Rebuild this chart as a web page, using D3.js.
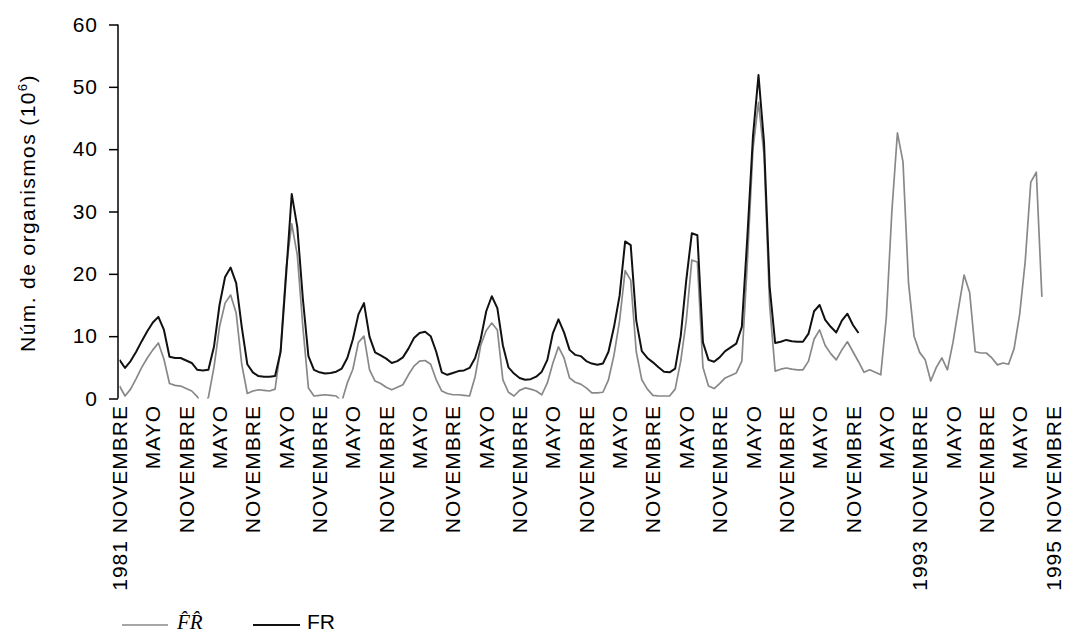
<!DOCTYPE html>
<html>
<head>
<meta charset="utf-8">
<script src="https://cdn.jsdelivr.net/npm/d3@7"></script>
<style>
  body { margin: 0; background: #fff; }
  text { font-family: "Liberation Sans", Arial, sans-serif; fill: #000; }
  .tick-label { font-size: 21px; letter-spacing: 1px; }
  .axis-title { font-size: 21px; letter-spacing: 1.4px; }
  .legend { font-size: 21px; }
</style>
</head>
<body>
<div id="my_dataviz"></div>
<script>
// Monthly values starting November 1981 (index 0)
// Estimated series (F^R), values below 0 are clipped by the plot area
const frHat = [
  2.0, 0.4, 1.5, 3.2, 5.0, 6.5, 7.8, 8.9, 6.3, 2.4, 2.1, 2.0,
  1.6, 1.2, 0.3, -1.5, 0.2, 5.0, 11.5, 15.3, 16.6, 13.7, 5.5, 0.8,
  1.2, 1.4, 1.3, 1.2, 1.5, 8.0, 21.0, 28.0, 23.0, 11.5, 1.7, 0.4,
  0.5, 0.6, 0.5, 0.4, -0.5, 2.5, 4.7, 9.0, 10.0, 4.6, 2.8, 2.4,
  1.8, 1.4, 1.8, 2.2, 3.8, 5.2, 6.0, 6.1, 5.5, 3.0, 1.2, 0.8,
  0.6, 0.6, 0.5, 0.4, 3.5, 8.5, 10.9, 12.1, 11.0, 3.0, 1.0, 0.4,
  1.3, 1.7, 1.5, 1.2, 0.6, 2.5, 5.7, 8.3, 6.5, 3.3, 2.6, 2.3,
  1.7, 0.9, 0.9, 1.0, 3.0, 7.0, 12.5, 20.5, 19.0, 7.5, 3.0, 1.5,
  0.5, 0.4, 0.4, 0.4, 1.5, 6.0, 12.5, 22.2, 21.9, 5.0, 2.0, 1.6,
  2.4, 3.3, 3.7, 4.1, 6.0, 22.0, 40.0, 47.5, 39.0, 15.0, 4.4, 4.7,
  4.9, 4.7, 4.6, 4.6, 6.0, 9.5, 11.0, 8.5, 7.2, 6.2, 7.8, 9.1,
  7.5, 5.9, 4.2, 4.6, 4.2, 3.8, 13.0, 30.0, 42.6, 38.0, 18.5, 10.0,
  7.4, 6.2, 2.8, 5.0, 6.5, 4.6, 9.0, 14.5, 19.8, 17.0, 7.5, 7.3,
  7.3, 6.5, 5.4, 5.7, 5.5, 8.0, 13.5, 22.0, 34.7, 36.3, 16.3
];

// Observed series (FR)
const fr = [
  6.2, 4.9, 6.0, 7.5, 9.2, 10.8, 12.2, 13.1, 11.0, 6.7, 6.5, 6.5,
  6.1, 5.7, 4.6, 4.5, 4.6, 8.3, 15.0, 19.5, 21.0, 18.5, 11.5, 5.5,
  4.2, 3.6, 3.5, 3.5, 3.6, 7.5, 20.0, 32.8, 27.5, 16.0, 6.8, 4.6,
  4.2, 4.0, 4.1, 4.3, 4.8, 6.5, 9.5, 13.5, 15.3, 9.9, 7.4, 6.9,
  6.4, 5.7, 6.0, 6.6, 8.0, 9.7, 10.5, 10.7, 10.0, 7.5, 4.2, 3.8,
  4.1, 4.4, 4.5, 4.9, 6.5, 9.5, 14.0, 16.4, 14.5, 8.5, 5.0, 4.0,
  3.3, 3.0, 3.1, 3.5, 4.3, 6.2, 10.5, 12.7, 10.6, 7.8, 7.0, 6.8,
  6.0, 5.6, 5.4, 5.6, 7.5, 11.5, 16.5, 25.2, 24.6, 12.5, 7.6, 6.5,
  5.8, 5.0, 4.3, 4.2, 4.8, 10.0, 19.0, 26.5, 26.2, 9.0, 6.2, 5.9,
  6.6, 7.6, 8.2, 8.8, 11.5, 26.0, 42.0, 51.9, 41.0, 18.0, 8.9, 9.1,
  9.4, 9.2, 9.1, 9.1, 10.4, 14.0, 15.0, 12.6, 11.5, 10.6, 12.5, 13.6,
  11.8, 10.5
];

// Category labels every 6 months
const xLabels = [
  "1981 NOVEMBRE", "MAYO", "NOVEMBRE", "MAYO", "NOVEMBRE", "MAYO", "NOVEMBRE", "MAYO",
  "NOVEMBRE", "MAYO", "NOVEMBRE", "MAYO", "NOVEMBRE", "MAYO", "NOVEMBRE", "MAYO",
  "NOVEMBRE", "MAYO", "NOVEMBRE", "MAYO", "NOVEMBRE", "MAYO", "NOVEMBRE", "MAYO",
  "1993 NOVEMBRE", "MAYO", "NOVEMBRE", "MAYO", "1995 NOVEMBRE"
];
const labelStep = 6;
const yTicks = [0, 10, 20, 30, 40, 50, 60];

const width = 1067;
const height = 635;

const svg = d3.select("#my_dataviz")
  .append("svg")
  .attr("width", width)
  .attr("height", height);

// Scales
const xScale = d3.scaleLinear()
  .domain([0, (xLabels.length - 1) * labelStep])
  .range([119.5, 1053]);

const yScale = d3.scaleLinear()
  .domain([0, 60])
  .range([398.5, 24.5]);

// Clip the lines to the plot area (negative values disappear)
svg.append("clipPath")
  .attr("id", "plotClip")
  .append("rect")
  .attr("x", xScale(0))
  .attr("y", yScale(60))
  .attr("width", xScale.range()[1] - xScale(0) + 5)
  .attr("height", yScale(0) - yScale(60));

const line = d3.line()
  .x((d, i) => xScale(i))
  .y(d => yScale(d));

// Estimated series first, observed series on top
svg.append("path")
  .datum(frHat)
  .attr("clip-path", "url(#plotClip)")
  .attr("fill", "none")
  .attr("stroke", "#888")
  .attr("stroke-width", 1.7)
  .attr("stroke-linejoin", "round")
  .attr("d", line);

svg.append("path")
  .datum(fr)
  .attr("clip-path", "url(#plotClip)")
  .attr("fill", "none")
  .attr("stroke", "#111")
  .attr("stroke-width", 2)
  .attr("stroke-linejoin", "round")
  .attr("d", line);

// Y axis
const yAxis = svg.append("g")
  .attr("transform", "translate(118,0)")
  .call(d3.axisLeft(yScale).tickValues(yTicks).tickSize(9).tickPadding(11));

yAxis.select(".domain")
  .attr("stroke", "#000")
  .attr("stroke-width", 1.5)
  .attr("d", `M0,${yScale(60)}V${yScale(0)}`);

yAxis.selectAll(".tick line")
  .attr("stroke", "#000")
  .attr("stroke-width", 1.5);

yAxis.selectAll(".tick text")
  .attr("class", "tick-label")
  .attr("font-family", null)
  .attr("font-size", null);

// Y axis title
const yTitle = svg.append("text")
  .attr("class", "axis-title")
  .attr("text-anchor", "middle")
  .attr("transform", "translate(35,213) rotate(-90)");
yTitle.append("tspan").text("Núm. de organismos (10");
yTitle.append("tspan").attr("font-size", "13px").attr("dy", -8).text("6");
yTitle.append("tspan").attr("dy", 8).text(")");

// X labels (rotated, no axis line)
svg.append("g")
  .selectAll("text")
  .data(xLabels)
  .enter()
  .append("text")
  .attr("class", "tick-label")
  .attr("text-anchor", "end")
  .attr("dy", "0.36em")
  .attr("transform", (d, i) => `translate(${xScale(i * labelStep)},405) rotate(-90)`)
  .text(d => d);

// Legend
svg.append("line")
  .attr("x1", 122).attr("x2", 168)
  .attr("y1", 625).attr("y2", 625)
  .attr("stroke", "#888")
  .attr("stroke-width", 1.7);

svg.append("text")
  .attr("class", "legend")
  .attr("x", 177)
  .attr("y", 629)
  .style("font-family", "'Liberation Serif', 'DejaVu Serif', serif")
  .style("font-style", "italic")
  .text("F\u0302R\u0302");

svg.append("line")
  .attr("x1", 253).attr("x2", 300)
  .attr("y1", 625).attr("y2", 625)
  .attr("stroke", "#111")
  .attr("stroke-width", 2);

svg.append("text")
  .attr("class", "legend")
  .attr("x", 307)
  .attr("y", 629)
  .text("FR");
</script>
</body>
</html>
